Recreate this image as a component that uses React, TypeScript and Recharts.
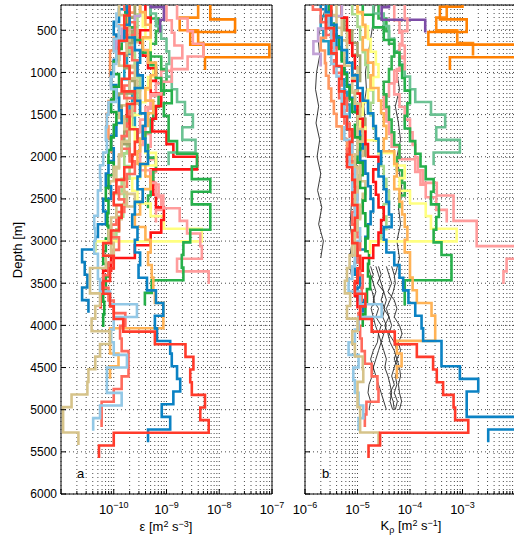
import React from 'react';
import { LineChart, Line, XAxis, YAxis, CartesianGrid, ReferenceArea } from 'recharts';

// ---------- data (values stored as log10 exponents) ----------
const BIN = 150; // m, bin height of each step profile
const DEPTH_DOMAIN = [200, 6000];
const DEPTH_TICKS = [500, 1000, 1500, 2000, 2500, 3000, 3500, 4000, 4500, 5000, 5500, 6000];
const EPS_DOMAIN = [1e-11, 1e-7];
const KR_DOMAIN = [1e-6, 1e-2];
const EPS_DECADES = [-11, -10, -9, -8];
const KR_DECADES = [-6, -5, -4, -3];
const EPS_LABEL_EXP = [-10, -9, -8, -7];
const KR_LABEL_EXP = [-6, -5, -4, -3];
const MINOR = [1, 2, 3, 4, 5, 6, 7, 8, 9];

const S01_START = 174;
const S01_EPS = [-9.7, -9.8, -9.75, -9.9, -9.8, -9.7, -9.85, -9.6, -9.75, -9.7, -9.55, -9.6, -9.65, -9.8, -9.95, -10.0, -9.85, -9.9, -10.05, -10.2, -10.0, -10.07, -10.2, -10.07, -10.0, -9.82, -9.22, -8.64, -8.49, -8.55, -8.52, -8.27, -8.36, -8.2, -10.0, -10.28];
const S01_KR = [-5.5, -5.6, -5.45, -5.5, -5.4, -5.3, -5.35, -5.25, -5.3, -5.2, -5.1, -5.15, -5.2, -5.1, -5.05, -5.1, -5.0, -5.05, -5.1, -5.0, -4.95, -5.0, -5.05, -4.85, -4.95, -4.73, -4.29, -3.87, -3.56, -3.49, -3.37, -3.17, -3.14, -2.89, -4.57, -4.79];

const S02_START = 135;
const S02_EPS = [-9.75, -9.7, -9.8, -9.6, -9.5, -9.55, -9.45, -9.6, -9.5, -9.4, -9.45, -9.4, -9.35, -9.5, -9.55, -9.45, -9.6, -9.65, -9.55, -9.6, -9.5, -9.53, -9.37, -9.2, -9.06, -9.22, -9.18, -8.93, -8.9, -8.8, -8.74, -8.87, -9.09, -8.93, -9.35];
const S02_KR = [-5.6, -5.5, -5.4, -5.3, -5.2, -5.1, -5.0, -4.9, -4.8, -4.7, -4.65, -4.6, -4.55, -4.6, -4.5, -4.45, -4.4, -4.35, -4.5, -4.45, -4.3, -4.2, -4.13, -4.03, -3.9, -3.78, -3.75, -3.4, -3.4, -3.05, -2.7, -2.92, -2.92, -1.7, -2.51];

const S03_START = 170;
const S03_EPS = [-9.9, -9.8, -9.7, -9.75, -9.9, -9.6, -9.7, -9.5, -9.65, -9.8, -9.7, -9.85, -9.9, -10.0, -9.8, -9.75, -9.95, -10.05, -10.1, -10.0, -10.15, -10.45, -10.45, -10.26, -10.35, -10.42, -10.07, -10.26, -10.35, -10.48, -10.5, -10.8, -10.96, -10.96, -10.67];
const S03_KR = [-5.6, -5.4, -5.3, -5.2, -5.25, -5.1, -5.0, -5.05, -4.95, -5.0, -4.9, -5.0, -5.05, -4.95, -5.0, -5.05, -4.95, -5.0, -5.1, -5.05, -5.15, -5.2, -5.24, -5.14, -5.2, -5.0, -5.1, -5.05, -4.9, -4.89, -5.0, -5.0, -4.95, -4.95, -4.6];

const S04_START = 150;
const S04_EPS = [-9.9, -9.95, -9.9, -10.0, -9.95, -10.0, -10.05, -9.95, -10.1, -10.13, -10.15, -10.13, -10.2, -10.26, -10.25, -10.3, -10.3, -10.37, -10.35, -10.37, -10.3, -10.3, -10.26, -10.07, -9.56, -10.0, -10.05, -10.0, -9.75, -10.13, -10.13, -9.85, -10.26, -10.39];
const S04_KR = [-5.6, -5.55, -5.5, -5.45, -5.5, -5.4, -5.35, -5.3, -5.25, -5.2, -5.25, -5.1, -5.15, -5.05, -5.1, -5.0, -5.05, -5.0, -4.95, -5.0, -5.05, -5.1, -5.17, -4.95, -4.54, -4.98, -5.05, -5.17, -4.98, -5.08, -5.05, -4.98, -4.89, -4.98];

const S05_START = 105;
const S05_EPS = [-9.8, -9.7, -9.6, -9.75, -9.65, -9.55, -9.7, -9.8, -9.6, -9.7, -9.75, -9.85, -9.7, -9.6, -9.75, -9.9, -9.8, -9.95, -10.05, -9.9, -10.0, -10.1, -10.2, -10.1, -10.0, -9.78, -9.88, -9.85, -9.72, -9.72, -9.85, -10.0, -10.23, -10.23];
const S05_KR = [-5.85, -5.7, -5.6, -5.5, -5.4, -5.45, -5.3, -5.35, -5.2, -5.25, -5.15, -5.1, -5.2, -5.05, -5.1, -5.0, -5.05, -5.1, -5.0, -4.95, -5.0, -4.95, -4.9, -4.92, -4.95, -4.98, -4.95, -4.92, -4.86, -4.73, -4.62, -4.6, -4.83, -4.86];

const S06_START = 134;
const S06_EPS = [-9.5, -9.4, -9.3, -9.45, -9.35, -9.2, -9.3, -9.4, -9.25, -9.35, -9.45, -9.5, -9.55, -9.4, -9.3, -9.45, -9.5, -9.6, -9.4, -9.3, -9.35, -9.28, -9.25, -9.22, -9.06, -9.06, -10.07, -10.07, -9.91, -10.07];
const S06_KR = [-5.0, -4.9, -4.85, -4.9, -4.8, -4.7, -4.75, -4.6, -4.55, -4.5, -4.45, -4.5, -4.3, -4.25, -4.3, -4.2, -4.15, -4.1, -4.05, -4.1, -4.0, -4.0, -3.95, -3.87, -3.59, -3.52, -3.52, -4.25, -4.16, -4.25];

const S07_START = 165;
const S07_EPS = [-9.75, -9.7, -9.6, -9.45, -9.3, -9.2, -9.1, -8.9, -9.05, -8.96, -8.96, -8.8, -8.42, -8.52, -8.17, -8.52, -8.17, -8.17, -8.55, -8.68, -8.71, -8.68, -9.28, -9.41];
const S07_KR = [-4.9, -4.7, -4.5, -4.3, -4.2, -4.15, -4.1, -4.0, -4.05, -4.1, -4.0, -3.9, -3.8, -3.7, -3.55, -3.6, -3.45, -3.5, -3.55, -3.4, -3.21, -3.21, -4.1, -4.1];

const S08_START = 60;
const S08_EPS = [-8.8, -8.8, -8.6, -8.5, -8.3, -8.6, -8.9, -9.1, -9.3, -9.4, -9.5, -9.45, -9.5, -9.5, -9.3, -9.2, -9.06, -8.75, -8.61, -8.36, -8.33, -8.8, -8.2];
const S08_KR = [-4.1, -4.1, -4.05, -4.15, -4.2, -4.1, -4.25, -4.3, -4.2, -4.1, -4.0, -3.95, -3.9, -3.85, -3.75, -3.49, -3.17, -3.17, -2.73, -2.73, -1.7, -2.16, -2.22];

const S09_START = 70;
const S09_EPS = [-8.17, -8.17, -7.7, -8.55, -7.05, -8.27];
const S09_KR = [-3.0, -3.43, -2.92, -3.65, -1.9, -3.24];

const S10_START = 50;
const S10_EPS = [-8.4, -8.4, -8.75, -8.4, -8.3];
const S10_KR = [-3.3, -3.3, -3.5, -3.1, -2.8];

const S11_START = 75;
const S11_EPS = [-9.3, -9.05, -9.12];
const S11_KR = [-4.4, -4.54, -3.71];

const S12_START = 180;
const S12_EPS = [-9.5, -9.6, -9.85, -9.95, -9.8];
const S12_KR = [-5.3, -5.5, -5.75, -5.84, -5.7];

const S13_START = 150;
const S13_EPS = [-9.3, -9.2, -9.1, -9.0, -8.95, -9.0, -8.9, -8.8, -8.65, -8.5, -8.7, -8.45, -8.96];
const S13_KR = [-4.7, -4.5, -4.4, -4.3, -4.2, -4.1, -4.0, -3.9, -3.6, -3.33, -3.5, -3.05, -3.55];

const S14_START = 50;
const S14_EPS = [-9.4, -9.4, -9.3, -9.5, -9.45, -9.35, -9.2, -9.3, -9.1, -9.2, -9.27, -9.0, -8.87, -8.42, -9.3, -9.25, -9.2, -9.05, -9.1, -9.3, -9.6, -10.05, -10.2, -10.25, -10.25];
const S14_KR = [-5.3, -5.3, -5.2, -5.15, -5.1, -5.05, -5.1, -5.0, -4.95, -5.0, -4.9, -4.85, -4.8, -4.6, -4.7, -4.65, -4.6, -4.5, -4.55, -4.6, -4.7, -4.9, -5.0, -5.05, -5.0];

const S15_START = 154;
const S15_EPS = [-9.5, -9.45, -9.4, -9.3, -9.3, -9.25, -9.35, -9.4, -9.5, -9.68, -9.6, -9.4, -9.2, -9.5, -9.65, -9.55, -9.3, -9.05, -8.33, -10.35];
const S15_KR = [-5.0, -4.9, -4.8, -4.75, -4.65, -4.6, -4.7, -4.8, -4.9, -4.95, -4.85, -4.6, -4.3, -4.1, -4.2, -4.0, -3.7, -3.6, -3.11, -4.76];

const S16_START = 120;
const S16_EPS = [-9.78, -9.78, -9.8, -9.85, -9.95, -10.0, -9.9, -10.0, -10.05, -9.95, -10.0, -10.05, -10.1, -10.0, -10.1, -10.15, -10.1, -10.12, -10.1, -10.15, -10.2, -10.1, -10.15, -10.2, -10.18, -10.2];
const S16_KR = [-5.55, -5.5, -5.45, -5.35, -5.3, -5.25, -5.2, -5.15, -5.1, -5.0, -5.05, -4.95, -5.0, -4.9, -4.95, -4.85, -4.9, -4.85, -4.8, -4.85, -4.78, -4.8, -4.76, -4.82, -4.85, -4.9];

const S17_START = 100;
const S17_EPS = [-9.8, -9.9, -10.0, -9.95, -9.9, -10.0, -10.05, -9.95, -9.9, -9.85, -9.95, -10.05, -10.0, -10.1, -10.15, -10.05, -10.2, -10.15, -10.3, -10.35, -10.6, -10.55, -10.5, -10.6, -10.48];
const S17_KR = [-5.7, -5.6, -5.5, -5.4, -5.3, -5.25, -5.2, -5.15, -5.05, -5.0, -4.95, -4.9, -4.95, -4.85, -4.8, -4.75, -4.7, -4.75, -4.8, -4.85, -5.0, -5.05, -4.95, -5.0, -4.9];

const S18_START = 50;
const S18_EPS = [-9.6, -9.6, -9.7, -9.65, -9.75, -9.8, -9.7, -9.6, -9.9, -9.85, -9.75, -9.8, -9.7];
const S18_KR = [-5.3, -5.3, -5.25, -5.1, -5.0, -4.95, -4.95, -5.0, -4.9, -4.95, -4.85, -4.9, -4.85];

const S19_START = 160;
const S19_EPS = [-9.5, -9.55, -9.6, -9.7, -9.6, -9.55, -9.5, -9.55, -9.6, -9.65, -9.7, -9.75, -9.8, -9.7, -9.85, -9.8, -9.82, -9.9, -9.95];
const S19_KR = [-5.1, -5.0, -4.95, -4.9, -4.85, -4.8, -4.75, -4.7, -4.75, -4.7, -4.65, -4.6, -4.55, -4.5, -4.45, -4.4, -4.5, -4.45, -4.55];

const S20_START = 140;
const S20_EPS = [-9.6, -9.75, -9.9, -10.0, -10.07, -10.07, -10.05, -10.0, -10.1, -10.13, -10.1, -10.05, -10.0];
const S20_KR = [-5.5, -5.55, -5.6, -5.7, -5.62, -5.6, -5.55, -5.5, -5.45, -5.4, -5.3, -5.2, -5.1];

const S21_START = 180;
const S21_EPS = [-9.75, -9.78, -9.8, -9.7, -9.75, -9.8, -9.7, -9.65, -9.7, -9.6, -9.55];
const S21_KR = [-5.6, -5.7, -5.65, -5.55, -5.4, -5.3, -5.25, -5.2, -5.15, -5.2, -5.1];

const S22_START = 60;
const S22_EPS = [-9.3, -9.3, -9.15, -9.2, -9.3, -9.1, -9.0, -9.05, -9.15, -9.25, -9.3, -9.4, -9.35, -9.2, -9.25, -9.3, -9.35];
const S22_KR = [-4.6, -4.6, -4.45, -4.4, -4.3, -4.35, -4.4, -4.5, -4.45, -4.4, -4.35, -4.3, -4.2, -4.25, -4.15, -4.1, -4.2];

const S23_START = 80;
const S23_EPS = [-9.0, -9.0, -8.9, -8.85, -8.7, -8.9, -9.1, -9.2, -9.3, -9.35, -9.4, -9.3, -9.35, -9.2, -9.25, -9.15, -9.1, -9.2];
const S23_KR = [-4.3, -4.3, -4.2, -4.15, -4.1, -4.2, -4.3, -4.4, -4.5, -4.45, -4.4, -4.35, -4.2, -3.9, -3.8, -3.7, -3.5, -3.3];

const S24_START = 190;
const S24_EPS = [-9.7, -9.6, -9.55, -9.65, -9.6, -9.7, -9.55, -9.75, -9.9, -9.8, -9.7, -9.85, -9.9, -9.95, -10.07, -9.6, -9.85, -9.9, -10.0, -10.05];
const S24_KR = [-5.4, -5.3, -5.2, -5.1, -5.05, -5.0, -5.1, -5.05, -5.0, -4.95, -5.0, -4.9, -4.95, -5.0, -4.85, -4.9, -4.95, -5.0, -5.05, -5.1];

// thin black profiles (panel b only)
const THIN1_DEPTHS = [200, 400, 600, 800, 1000, 1200, 1400, 1600, 1800, 2000, 2200, 2400, 2600, 2800, 3000, 3200];
const THIN1_KR = [-5.6, -5.68, -5.75, -5.72, -5.78, -5.8, -5.74, -5.79, -5.72, -5.77, -5.7, -5.76, -5.68, -5.74, -5.65, -5.7];
const THIN2_DEPTHS = [200, 400, 600, 800, 1000, 1200, 1400, 1600, 1800, 2000, 2200, 2400, 2600, 2800, 3000, 3200, 3400];
const THIN2_KR = [-4.67, -4.7, -4.75, -4.8, -4.85, -4.83, -4.88, -4.85, -4.9, -5.0, -5.05, -5.1, -5.12, -5.14, -5.1, -5.15, -5.12];
const THIN3_DEPTHS = [1000, 1200, 1400, 1600, 1800, 2000, 2200, 2400, 2600, 2800, 3000, 3200, 3400];
const THIN3_KR = [-4.25, -4.2, -4.28, -4.22, -4.18, -4.25, -4.2, -4.15, -4.22, -4.18, -4.25, -4.2, -4.28];
const DEEP_DEPTHS = [3300, 3400, 3500, 3600, 3700, 3800, 3900, 4000, 4100, 4200, 4300, 4400, 4500, 4600, 4700, 4800, 4900, 5000];
const DEEP1_KR = [-4.75, -4.7, -4.78, -4.72, -4.68, -4.74, -4.7, -4.66, -4.6, -4.55, -4.5, -4.45, -4.48, -4.42, -4.38, -4.35, -4.38, -4.33];
const DEEP2_KR = [-4.6, -4.55, -4.62, -4.5, -4.45, -4.5, -4.4, -4.35, -4.4, -4.3, -4.25, -4.3, -4.22, -4.28, -4.25, -4.3, -4.24, -4.28];
const DEEP3_KR = [-4.45, -4.4, -4.35, -4.42, -4.3, -4.25, -4.3, -4.2, -4.15, -4.22, -4.18, -4.25, -4.3, -4.35, -4.3, -4.38, -4.32, -4.3];
const DEEP4_KR = [-4.8, -4.75, -4.7, -4.65, -4.7, -4.6, -4.65, -4.55, -4.6, -4.62, -4.7, -4.75, -4.7, -4.65, -4.6, -4.55, -4.5, -4.45];
const DEEP5_KR = [-4.35, -4.3, -4.28, -4.32, -4.38, -4.45, -4.4, -4.48, -4.42, -4.38, -4.3, -4.25, -4.2, -4.18, -4.22, -4.2, -4.16, -4.2];
const DEEP6_KR = [-4.65, -4.6, -4.55, -4.5, -4.55, -4.48, -4.52, -4.45, -4.5, -4.55, -4.6, -4.65, -4.7, -4.72, -4.78, -4.8, -4.75, -4.78];

// drawing order: background cluster first, distinctive profiles last
const STATIONS = [
  { start: S24_START, eps: S24_EPS, kr: S24_KR },
  { start: S23_START, eps: S23_EPS, kr: S23_KR },
  { start: S22_START, eps: S22_EPS, kr: S22_KR },
  { start: S21_START, eps: S21_EPS, kr: S21_KR },
  { start: S20_START, eps: S20_EPS, kr: S20_KR },
  { start: S19_START, eps: S19_EPS, kr: S19_KR },
  { start: S18_START, eps: S18_EPS, kr: S18_KR },
  { start: S17_START, eps: S17_EPS, kr: S17_KR },
  { start: S16_START, eps: S16_EPS, kr: S16_KR },
  { start: S15_START, eps: S15_EPS, kr: S15_KR },
  { start: S14_START, eps: S14_EPS, kr: S14_KR },
  { start: S13_START, eps: S13_EPS, kr: S13_KR },
  { start: S12_START, eps: S12_EPS, kr: S12_KR },
  { start: S11_START, eps: S11_EPS, kr: S11_KR },
  { start: S10_START, eps: S10_EPS, kr: S10_KR },
  { start: S09_START, eps: S09_EPS, kr: S09_KR },
  { start: S08_START, eps: S08_EPS, kr: S08_KR },
  { start: S07_START, eps: S07_EPS, kr: S07_KR },
  { start: S06_START, eps: S06_EPS, kr: S06_KR },
  { start: S05_START, eps: S05_EPS, kr: S05_KR },
  { start: S04_START, eps: S04_EPS, kr: S04_KR },
  { start: S03_START, eps: S03_EPS, kr: S03_KR },
  { start: S02_START, eps: S02_EPS, kr: S02_KR },
  { start: S01_START, eps: S01_EPS, kr: S01_KR },
];

const THIN_LINES = [
  { depths: THIN1_DEPTHS, kr: THIN1_KR },
  { depths: THIN2_DEPTHS, kr: THIN2_KR },
  { depths: THIN3_DEPTHS, kr: THIN3_KR },
  { depths: DEEP_DEPTHS, kr: DEEP1_KR },
  { depths: DEEP_DEPTHS, kr: DEEP2_KR },
  { depths: DEEP_DEPTHS, kr: DEEP3_KR },
  { depths: DEEP_DEPTHS, kr: DEEP4_KR },
  { depths: DEEP_DEPTHS, kr: DEEP5_KR },
  { depths: DEEP_DEPTHS, kr: DEEP6_KR },
];

// ---------- styles ----------
const STATION_COLORS = [
  '#d8c58e', '#ff9a9a', '#33b24f', '#1c9cc4', '#ff9860', '#a9d98c', '#a3a36a', '#0b7fbf',
  '#1aa83c', '#ffff80', '#ff1414', '#6bc293', '#c2a2d6', '#7c4ca6', '#ff8a10', '#ff8000',
  '#ff9c9c', '#27b04b', '#ffb356', '#ff6a5c', '#93c8e6', '#d6c38a', '#0b82c4', '#ff3b2b',
];
const FONT = '"Liberation Sans", Arial, Helvetica, sans-serif';
const GRID_COLOR = '#4a4a4a';

type Pt = { v: number; d: number };
const toSteps = (start: number, exps: number[]): Pt[] =>
  exps.flatMap((e, i) => [
    { v: Math.pow(10, e), d: start + i * BIN },
    { v: Math.pow(10, e), d: start + (i + 1) * BIN },
  ]);
const toLine = (depths: number[], exps: number[]): Pt[] =>
  depths.map((d, i) => ({ v: Math.pow(10, exps[i]), d }));

const logTicks = (decades: number[]) => {
  const t = decades.flatMap((e) => MINOR.map((m) => m * Math.pow(10, e)));
  t.push(Math.pow(10, decades[decades.length - 1] + 1));
  return t;
};
const EPS_TICKS = logTicks(EPS_DECADES);
const KR_TICKS = logTicks(KR_DECADES);

const makeXTick = (labels: number[]) => (props: any) => {
  const { x, y, payload } = props;
  const lg = Math.log10(payload.value);
  const ex = Math.round(lg);
  const major = Math.abs(lg - ex) < 1e-6;
  return (
    <g>
      <line x1={x} x2={x} y1={y} y2={y - (major ? 5 : 3)} stroke="#000" strokeWidth={1} />
      {major && labels.includes(ex) ? (
        <text x={x} y={y + 20} textAnchor="middle" fontSize={13} fontFamily={FONT} fill="#000">
          10
          <tspan dy={-6.5} fontSize={9}>{'\u2212' + Math.abs(ex)}</tspan>
        </text>
      ) : null}
    </g>
  );
};

const makeYTick = (showLabel: boolean) => (props: any) => {
  const { x, y, payload } = props;
  return (
    <g>
      <line x1={x} x2={x + 5} y1={y} y2={y} stroke="#000" strokeWidth={1} />
      {showLabel ? (
        <text x={x - 4} y={y + 4.3} textAnchor="end" fontSize={12} fontFamily={FONT} fill="#000">
          {payload.value}
        </text>
      ) : null}
    </g>
  );
};

function Panel(props: {
  width: number;
  left: number;
  yWidth: number;
  right: number;
  domain: number[];
  ticks: number[];
  labels: number[];
  field: 'eps' | 'kr';
  showDepth: boolean;
  thin: boolean;
}) {
  const { width, left, yWidth, right, domain, ticks, labels, field, showDepth, thin } = props;
  return (
    <div style={{ position: 'absolute', left, top: 0 }}>
      <LineChart width={width} height={537} layout="vertical" margin={{ top: 5, right, bottom: 13, left: 0 }}>
        <CartesianGrid stroke={GRID_COLOR} strokeDasharray="1 3" strokeWidth={1} />
        <XAxis
          type="number"
          scale="log"
          domain={domain}
          allowDataOverflow
          ticks={ticks}
          interval={0}
          tick={makeXTick(labels)}
          tickLine={false}
          axisLine={false}
          tickSize={0}
          tickMargin={0}
          height={30}
        />
        <YAxis
          type="number"
          dataKey="d"
          domain={DEPTH_DOMAIN}
          allowDataOverflow
          ticks={DEPTH_TICKS}
          interval={0}
          tick={makeYTick(showDepth)}
          tickLine={false}
          axisLine={false}
          tickSize={0}
          tickMargin={0}
          width={yWidth}
        />
        {thin
          ? THIN_LINES.map((l, i) => (
              <Line
                key={'t' + i}
                data={toLine(l.depths, l.kr)}
                dataKey="v"
                type="linear"
                stroke="#262626"
                strokeWidth={0.9}
                dot={false}
                activeDot={false}
                isAnimationActive={false}
              />
            ))
          : null}
        {STATIONS.map((s, i) => (
          <Line
            key={'s' + i}
            data={toSteps(s.start, s[field])}
            dataKey="v"
            type="linear"
            stroke={STATION_COLORS[i]}
            strokeWidth={2.6}
            strokeLinejoin="miter"
            dot={false}
            activeDot={false}
            isAnimationActive={false}
          />
        ))}
        <ReferenceArea
          x1={domain[0]}
          x2={domain[1]}
          y1={DEPTH_DOMAIN[0]}
          y2={DEPTH_DOMAIN[1]}
          fill="none"
          fillOpacity={0}
          stroke="#000"
          strokeWidth={1}
          ifOverflow="visible"
        />
      </LineChart>
    </div>
  );
}

export default function App() {
  return (
    <div
      style={{
        position: 'absolute',
        left: 0,
        top: 0,
        width: 514,
        height: 537,
        overflow: 'hidden',
        background: '#fff',
        fontFamily: FONT,
      }}
    >
      <Panel width={300} left={0} yWidth={61} right={28} domain={EPS_DOMAIN} ticks={EPS_TICKS} labels={EPS_LABEL_EXP} field="eps" showDepth={true} thin={false} />
      <Panel width={250} left={270} yWidth={35} right={5} domain={KR_DOMAIN} ticks={KR_TICKS} labels={KR_LABEL_EXP} field="kr" showDepth={false} thin={true} />
      <svg width={514} height={537} style={{ position: 'absolute', left: 0, top: 0, pointerEvents: 'none' }} fontFamily={FONT}>
        <text transform="translate(22,250) rotate(-90)" textAnchor="middle" fontSize={13} fill="#000">
          Depth [m]
        </text>
        <text x={166} y={531} textAnchor="middle" fontSize={13} fill="#000">
          ε [m<tspan dy={-4.5} fontSize={9}>2</tspan>
          <tspan dy={4.5}> s</tspan>
          <tspan dy={-4.5} fontSize={9}>{'\u22123'}</tspan>
          <tspan dy={4.5}>]</tspan>
        </text>
        <text x={411} y={530} textAnchor="middle" fontSize={13} fill="#000">
          K<tspan dy={3} fontSize={9}>ρ</tspan>
          <tspan dy={-3}> [m</tspan>
          <tspan dy={-4.5} fontSize={9}>2</tspan>
          <tspan dy={4.5}> s</tspan>
          <tspan dy={-4.5} fontSize={9}>{'\u22121'}</tspan>
          <tspan dy={4.5}>]</tspan>
        </text>
        <text x={77} y={478} fontSize={13} fill="#000">a</text>
        <text x={322} y={478} fontSize={13} fill="#000">b</text>
      </svg>
    </div>
  );
}
